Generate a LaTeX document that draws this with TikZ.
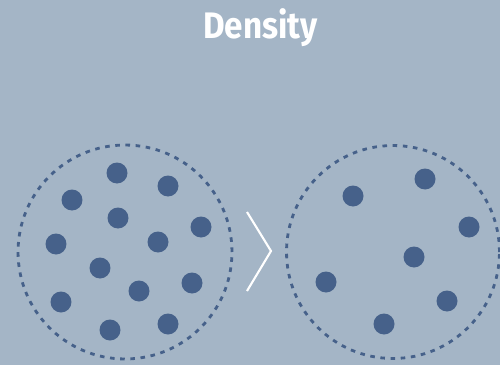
\documentclass[tikz,border=0pt]{standalone}
\usepackage{fontspec}
\setsansfont{Fira Sans}
\definecolor{bgblue}{HTML}{A4B5C6}
\definecolor{dotblue}{HTML}{46618A}
\tikzset{
  particle/.style={fill=dotblue},
  boundary/.style={draw=dotblue, line width=1.6pt, dash pattern=on 2.6pt off 3.2pt}
}
\begin{document}
\begin{tikzpicture}[x=0.02cm,y=-0.02cm]
\fill[bgblue] (0,0) rectangle (500,365);
\useasboundingbox (0,0) rectangle (500,365);
\node[text=white, anchor=base, inner sep=0pt, font=\sffamily\bfseries\fontsize{21}{25}\selectfont] (title) at (260.5,38) {\scalebox{0.9}[1]{Density}};

% dense side
\draw[boundary] (125,252) circle (2.14cm);
\foreach \x/\y in {117/173,168/186,72/200,118/218,201/227,56/244,158/242,100/268,192/283,139/291,61/302,168/324,110/330}
{
    \fill[particle] (\x,\y) circle (0.21cm);
}

% sparse side
\draw[boundary] (393,252) circle (2.13cm);
\foreach \x/\y in {353/196,425/179,469/227,414/257,326/282,447/301,384/324}
{
    \fill[particle] (\x,\y) circle (0.21cm);
}

\draw[white, line width=1.2pt] (247,212)--(271,251)--(247,291);
\end{tikzpicture}
\end{document}
